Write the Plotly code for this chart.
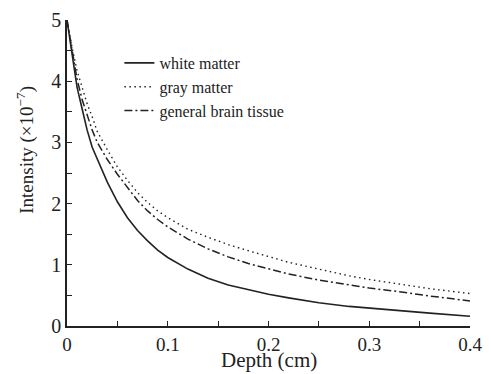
import plotly.graph_objects as go

depth = [0, 0.005, 0.01, 0.015, 0.02, 0.025, 0.03, 0.04, 0.05, 0.06, 0.07, 0.08, 0.09,
         0.1, 0.12, 0.14, 0.16, 0.18, 0.2, 0.22, 0.25, 0.28, 0.3, 0.33, 0.36, 0.4]
white_matter = [5.0, 4.45, 3.9, 3.55, 3.2, 2.92, 2.72, 2.35, 2.03, 1.77, 1.56, 1.39, 1.24,
                1.12, 0.93, 0.78, 0.67, 0.59, 0.52, 0.46, 0.38, 0.32, 0.29, 0.25, 0.21, 0.16]
gray_matter = [5.0, 4.55, 4.17, 3.88, 3.63, 3.42, 3.18, 2.88, 2.6, 2.38, 2.18, 2.02, 1.88,
               1.77, 1.58, 1.45, 1.33, 1.23, 1.13, 1.04, 0.93, 0.82, 0.76, 0.68, 0.61, 0.53]
general_brain = [5.0, 4.5, 4.03, 3.7, 3.43, 3.2, 3.0, 2.72, 2.48, 2.26, 2.05, 1.88, 1.74,
                 1.62, 1.42, 1.26, 1.13, 1.02, 0.93, 0.85, 0.75, 0.67, 0.62, 0.56, 0.49, 0.41]

x_ticks = [0, 0.1, 0.2, 0.3, 0.4]
x_tick_labels = ["0", "0.1", "0.2", "0.3", "0.4"]
y_ticks = [0, 1, 2, 3, 4, 5]

SERIF = "Liberation Serif"
INK = "#222222"

fig = go.Figure()
fig.add_trace(go.Scatter(x=depth, y=white_matter, mode="lines", name="white matter",
                         line=dict(color=INK, width=1.6, dash="solid")))
fig.add_trace(go.Scatter(x=depth, y=gray_matter, mode="lines", name="gray matter",
                         line=dict(color=INK, width=1.4, dash="1.5px,3.5px")))
fig.add_trace(go.Scatter(x=depth, y=general_brain, mode="lines", name="general brain tissue",
                         line=dict(color=INK, width=1.5, dash="8px,3px,2px,3px")))

# page has an 8px body margin, so the figure is a bit smaller than the window
fig.update_layout(
    width=483, height=366,
    margin=dict(l=59, r=21, t=12, b=48),
    paper_bgcolor="white", plot_bgcolor="white",
    font=dict(family=SERIF, color=INK, size=20),
    showlegend=True,
    legend=dict(x=0.13, y=0.915, xanchor="left", yanchor="top",
                bgcolor="rgba(0,0,0,0)", font=dict(size=16, family=SERIF, color=INK),
                itemwidth=30, tracegroupgap=0),
    xaxis=dict(range=[0, 0.4], tickvals=x_ticks, ticktext=x_tick_labels, automargin=False,
               showgrid=False, zeroline=False, showline=True, linecolor=INK, linewidth=1.5,
               ticks="inside", ticklen=5, tickwidth=1.2, tickcolor=INK,
               minor=dict(dtick=0.05, ticks="inside", ticklen=5, tickwidth=1.2, tickcolor=INK, showgrid=False),
               tickfont=dict(size=19, family=SERIF, color=INK)),
    yaxis=dict(range=[0, 5], tickvals=y_ticks, automargin=False,
               showgrid=False, zeroline=False, showline=True, linecolor=INK, linewidth=1.5,
               ticks="inside", ticklen=5, tickwidth=1.2, tickcolor=INK,
               minor=dict(dtick=0.5, ticks="inside", ticklen=5, tickwidth=1.2, tickcolor=INK, showgrid=False),
               tickfont=dict(size=20, family=SERIF, color=INK)),
    annotations=[
        dict(text="Intensity (×10<sup>−7</sup>)", xref="paper", yref="paper",
             x=-0.105, y=0.575, xanchor="center", yanchor="middle",
             textangle=-90, showarrow=False,
             font=dict(size=19, family=SERIF, color=INK)),
        dict(text="Depth (cm)", xref="paper", yref="paper",
             x=0.5, y=-0.157, xanchor="center", yanchor="bottom",
             showarrow=False, font=dict(size=21, family=SERIF, color=INK)),
    ],
)

fig.write_html("out.html")
